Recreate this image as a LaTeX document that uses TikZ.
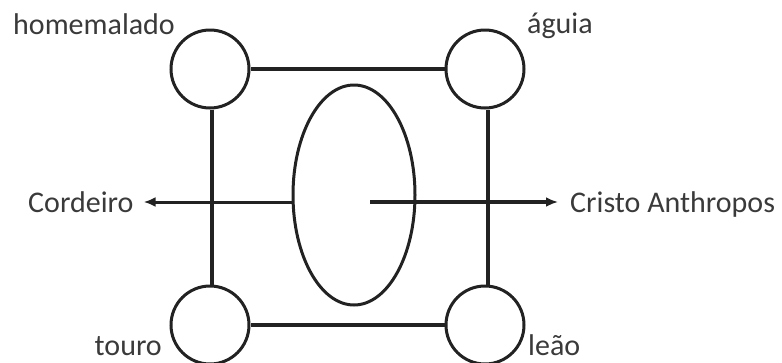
\documentclass[tikz,border=0pt]{standalone}
\usepackage{fontspec}
\setmainfont{Carlito}
\usetikzlibrary{arrows.meta, shapes.geometric}
\definecolor{ink}{HTML}{222222}
\definecolor{txt}{HTML}{3A3A3A}

\begin{document}
\begin{tikzpicture}[x=1pt, y=-1pt, font=\fontsize{30}{36}\selectfont,
    ring/.style={draw=ink, circle, line width=3pt, minimum size=78pt, inner sep=0pt},
    oval/.style={draw=ink, ellipse, line width=3pt, minimum width=122pt, minimum height=220pt, inner sep=0pt},
    link/.style={draw=ink, line width=3.6pt},
    lbl/.style={text=txt, inner sep=0pt},
    >={Latex[length=12pt, width=10pt]}]
  \useasboundingbox (0,0) rectangle (782,362);
  \node[ring] (hm) at (210,69) {};
  \node[ring] (ag) at (485,69) {};
  \node[ring] (to) at (210,325) {};
  \node[ring] (le) at (485,325) {};
  \node[oval] (ell) at (354,195) {};

  \node[lbl, anchor=base west] (hmt) at (13,34) {homemalado};
  \node[lbl, anchor=base west] (agt) at (527,33) {águia};
  \node[lbl, anchor=base east] (tot) at (162,355) {touro};
  \node[lbl, anchor=base west] (let) at (528,355) {leão};
  \node[lbl, anchor=base west] (cord) at (28,212) {Cordeiro};
  \node[lbl, anchor=base west] (cris) at (570,212) {Cristo Anthropos};

  \draw[link] (hm) -- (ag);
  \draw[link] (to) -- (le);
  \draw[link] ([xshift=2pt]hm.south) -- ([xshift=2pt]to.north);
  \draw[link] ([xshift=3pt]ag.south) -- ([xshift=3pt]le.north);

  \draw[link, ->, line width=3pt, shorten >=10pt] ([yshift=-7pt]ell.west) -- (cord.east |- 0,202);
  \draw[link, ->, line width=3.4pt, shorten >=12pt] ([xshift=16pt, yshift=-7pt]ell.center) -- (cris.west |- 0,202);
\end{tikzpicture}
\end{document}
